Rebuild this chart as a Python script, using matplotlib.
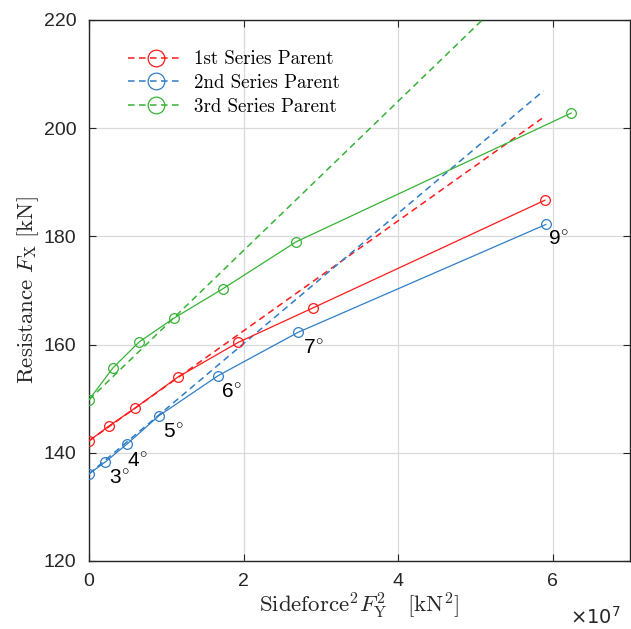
import matplotlib
matplotlib.use("Agg")
import matplotlib.pyplot as plt
from matplotlib.lines import Line2D
import numpy as np

# ---- data ----
red_x = [0.0, 0.263e7, 0.60e7, 1.15e7, 1.93e7, 2.90e7, 5.90e7]
red_y = [142.2, 145.0, 148.3, 154.0, 160.4, 166.8, 186.7]
blue_x = [0.0, 0.21e7, 0.49e7, 0.90e7, 1.67e7, 2.71e7, 5.91e7]
blue_y = [136.1, 138.3, 141.6, 146.8, 154.25, 162.3, 182.2]
green_x = [0.0, 0.31e7, 0.65e7, 1.10e7, 1.73e7, 2.68e7, 6.24e7]
green_y = [149.8, 155.7, 160.5, 164.9, 170.3, 179.0, 202.8]

# linear fits (dashed), endpoints
red_fit_x = [0.0, 5.86e7]
red_fit_y = [142.2, 201.8]
blue_fit_x = [0.0, 5.88e7]
blue_fit_y = [136.1, 206.9]
green_fit_x = [0.0, 5.9e7]
green_fit_y = [149.8, 231.2]

angle_labels = ['3', '4', '5', '6', '7', '9']
angle_x = [0.39e7, 0.63e7, 1.09e7, 1.85e7, 2.90e7, 6.08e7]
angle_y = [135.2, 138.4, 143.7, 151.1, 159.3, 179.4]

series_names = ['1st Series Parent', '2nd Series Parent', '3rd Series Parent']
xticks = [0, 2e7, 4e7, 6e7]
xtick_labels = ['0', '2', '4', '6']
yticks = [120, 140, 160, 180, 200, 220]

RED = '#FF1A1A'
BLUE = '#2F7DC6'
GREEN = '#36B336'

plt.rcParams['font.family'] = ['Liberation Sans', 'DejaVu Sans']
plt.rcParams['mathtext.fontset'] = 'cm'

fig = plt.figure(figsize=(6.31, 6.29), dpi=100)
ax = fig.add_axes([89/631, 1-561/629, (630-89)/631, (561-20)/629])

dash = (4.3, 2.9)
for fx, fy, c in [(red_fit_x, red_fit_y, RED), (blue_fit_x, blue_fit_y, BLUE),
                  (green_fit_x, green_fit_y, GREEN)]:
    ax.plot(fx, fy, color=c, lw=1.1, dashes=dash, zorder=3)
for x, y, c in [(red_x, red_y, RED), (blue_x, blue_y, BLUE), (green_x, green_y, GREEN)]:
    ax.plot(x, y, color=c, lw=0.9, marker='o', ms=7, mfc='none', mec=c, mew=0.9, zorder=4)

for lab, x, y in zip(angle_labels, angle_x, angle_y):
    ax.text(x, y, lab + r'$^{\circ}$', fontsize=15, ha='center', va='center', color='black')

ax.set_xlim(0, 7e7)
ax.set_ylim(120, 220)
ax.set_xticks(xticks)
ax.set_xticklabels(xtick_labels)
ax.set_yticks(yticks)
ax.tick_params(direction='in', top=True, right=True, labelsize=14, length=5, width=0.8,
               pad=9, colors='#262626')
for lab in ax.get_xticklabels() + ax.get_yticklabels():
    lab.set_color('#262626')
ax.grid(True, color='#DADADA', lw=0.9)
ax.set_axisbelow(True)
for s in ax.spines.values():
    s.set_color('#262626')
    s.set_linewidth(1.0)

ax.set_xlabel(r'$\mathrm{Sideforce}^2 F_\mathrm{Y}^2\quad[\mathrm{kN}^2]$', fontsize=16.5,
              color='#262626', labelpad=0)
ax.set_ylabel(r'$\mathrm{Resistance}\ F_\mathrm{X}\ [\mathrm{kN}]$', fontsize=16.5,
              color='#262626', labelpad=2)
fig.text(621/631, 1-624/629, r'$\times10^7$', fontsize=14, ha='right', va='baseline',
         color='#262626', family='Liberation Sans', math_fontfamily='dejavusans')

handles = [Line2D([], [], color=c, lw=1.1, dashes=dash, marker='o', ms=12, mfc='none',
                  mec=c, mew=0.9) for c in (RED, BLUE, GREEN)]
leg = ax.legend(handles, series_names, loc='upper left', bbox_to_anchor=(0.04, 0.975),
                frameon=False, handlelength=2.95, handletextpad=0.55, labelspacing=0.3,
                prop={'family': 'cmr10', 'size': 13.6})

fig.savefig('out.png', dpi=100)
